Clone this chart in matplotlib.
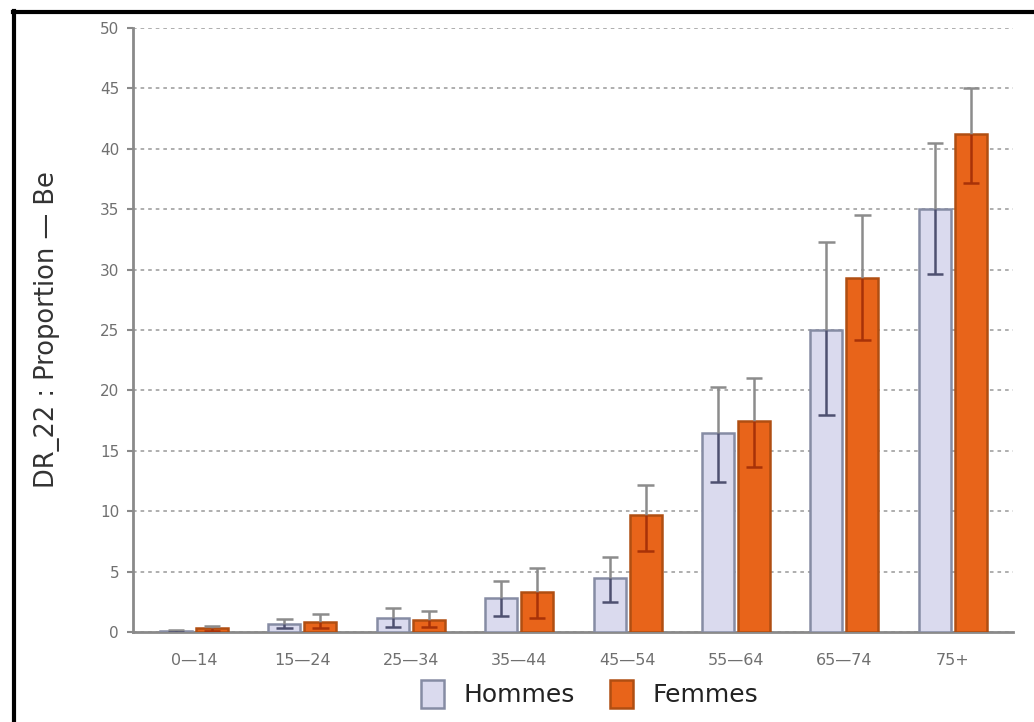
import matplotlib
matplotlib.use("Agg")
import matplotlib.pyplot as plt
from matplotlib.lines import Line2D
from matplotlib.patches import Patch
import numpy as np

plt.rcParams['font.family'] = ['DejaVu Sans']

# Age groups and proportions (%) with confidence bounds
categories = ["0—14", "15—24", "25—34", "35—44", "45—54", "55—64", "65—74", "75+"]
hommes = [0.1, 0.7, 1.2, 2.8, 4.5, 16.5, 25.0, 35.0]
hommes_low = [0.0, 0.3, 0.4, 1.3, 2.5, 12.4, 18.0, 29.6]
hommes_high = [0.2, 1.1, 2.0, 4.2, 6.2, 20.3, 32.3, 40.5]
femmes = [0.3, 0.8, 1.0, 3.3, 9.7, 17.5, 29.3, 41.2]
femmes_low = [0.1, 0.3, 0.4, 1.2, 6.7, 13.7, 24.2, 37.2]
femmes_high = [0.5, 1.5, 1.7, 5.3, 12.2, 21.0, 34.5, 45.0]
series_labels = ["Hommes", "Femmes"]
yticks = [0, 5, 10, 15, 20, 25, 30, 35, 40, 45, 50]

W, H = 1034, 722
fig = plt.figure(figsize=(W / 100, H / 100), dpi=100)
ax = fig.add_axes([133 / W, 1 - 632 / H, (1013 - 133) / W, (632 - 28) / H])

x = np.arange(len(categories))
width = 0.295
offset = 0.166

h_fill, h_edge, h_err_in = "#dadaee", "#868ca4", "#4e5070"
f_fill, f_edge, f_err_in = "#e8641a", "#b04e12", "#a83208"
err_out = "#8c8c8c"


def draw_series(xpos, vals, low, high, fill, edge, err_in):
    ax.bar(xpos, vals, width, color=fill, edgecolor=edge, linewidth=1.8, zorder=3)
    vals = np.asarray(vals)
    low = np.asarray(low)
    high = np.asarray(high)
    cap = 0.075
    # part of the interval above the bar top
    ax.vlines(xpos, vals, high, color=err_out, lw=1.8, zorder=4)
    ax.hlines(high, xpos - cap, xpos + cap, color=err_out, lw=1.8, zorder=4)
    # part of the interval inside the bar
    ax.vlines(xpos, low, vals, color=err_in, lw=1.8, zorder=4)
    ax.hlines(low, xpos - cap, xpos + cap, color=err_in, lw=1.8, zorder=4)


draw_series(x - offset, hommes, hommes_low, hommes_high, h_fill, h_edge, h_err_in)
draw_series(x + offset, femmes, femmes_low, femmes_high, f_fill, f_edge, f_err_in)

ax.set_xlim(-0.563, 7.555)
ax.set_ylim(0, 50)
ax.set_yticks(yticks)
ax.set_yticklabels([str(v) for v in yticks])
ax.set_xticks(x)
ax.set_xticklabels(categories)
ax.tick_params(axis="y", labelsize=11, colors="#8a8a8a", length=4, width=1.5, pad=6)
ax.tick_params(axis="x", labelsize=11.5, colors="#8a8a8a", length=0, pad=15)
for lab in ax.get_yticklabels() + ax.get_xticklabels():
    lab.set_color("#707070")

ax.yaxis.grid(True, linestyle=(0, (2, 2.2)), color="#a8a8a8", lw=1.3, zorder=0)
ax.set_axisbelow(True)
for s in ["top", "right"]:
    ax.spines[s].set_visible(False)
for s in ["left", "bottom"]:
    ax.spines[s].set_color("#8a8a8a")
    ax.spines[s].set_linewidth(2)

ax.set_ylabel("DR_22 : Proportion — Be", fontsize=18.5, color="#333333")
ax.yaxis.set_label_coords(-(133 - 60) / (1013 - 133), (632 - 330) / (632 - 28))

handles = [
    Patch(facecolor=h_fill, edgecolor=h_edge, linewidth=1.8),
    Patch(facecolor=f_fill, edgecolor=f_edge, linewidth=1.8),
]
leg = fig.legend(handles, series_labels, loc="center", ncol=2,
                 bbox_to_anchor=(590 / W, 1 - 694 / H), frameon=False,
                 fontsize=18, handlelength=0.9, handleheight=1.3,
                 handletextpad=0.8, columnspacing=1.4)
for t in leg.get_texts():
    t.set_color("#222222")

# black frame along the top and left edges
fig.add_artist(Line2D([13 / W, 1], [1 - 12 / H, 1 - 12 / H], color="black", lw=3,
                      transform=fig.transFigure))
fig.add_artist(Line2D([14 / W, 14 / W], [0, 1 - 11 / H], color="black", lw=3,
                      transform=fig.transFigure))

fig.savefig("out.png", dpi=100, facecolor="white")
